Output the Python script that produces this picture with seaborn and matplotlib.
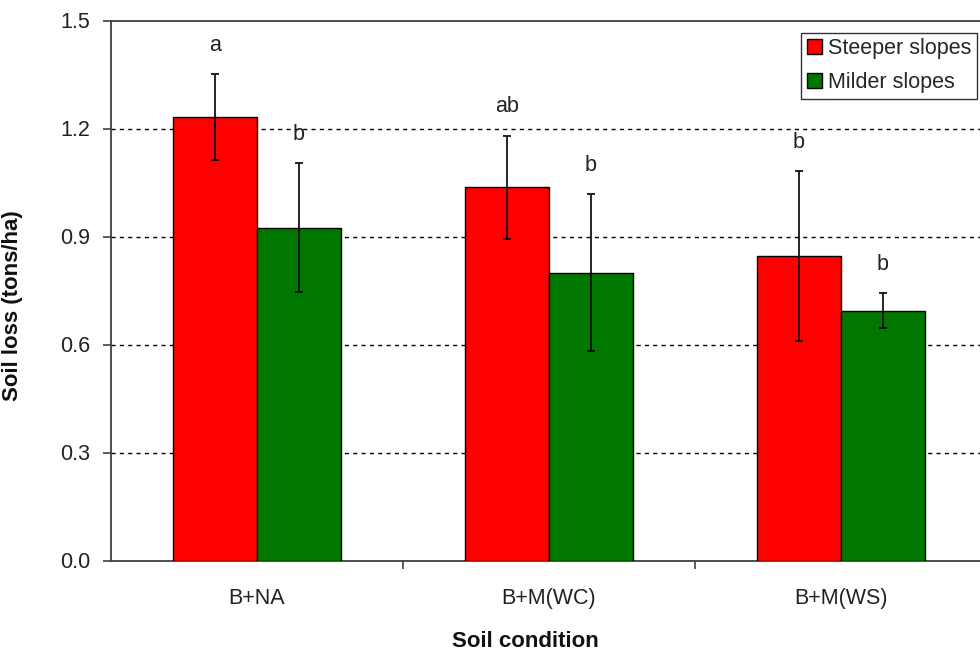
import matplotlib
matplotlib.use("Agg")
import matplotlib.pyplot as plt
import seaborn as sns
import pandas as pd
import numpy as np

conditions = ["B+NA", "B+M(WC)", "B+M(WS)"]
series = ["Steeper slopes", "Milder slopes"]
steeper = [1.232, 1.037, 0.846]
milder = [0.924, 0.800, 0.694]
steeper_err = [0.119, 0.143, 0.236]
milder_err = [0.179, 0.217, 0.048]
steeper_letters = ["a", "ab", "b"]
milder_letters = ["b", "b", "b"]
y_ticks = [0.0, 0.3, 0.6, 0.9, 1.2, 1.5]
colors = ["#FF0000", "#007800"]

df = pd.DataFrame({
    "Soil condition": conditions * 2,
    "Slope": [series[0]] * 3 + [series[1]] * 3,
    "value": steeper + milder,
})

sns.set_theme(style="white")
plt.rcParams["font.family"] = ["Liberation Sans", "DejaVu Sans"]

FS = 15.5

fig = plt.figure(figsize=(9.8, 6.52), dpi=100)
ax = fig.add_axes([111 / 980, 1 - 560.5 / 652, 876 / 980, 540 / 652])

sns.barplot(data=df, x="Soil condition", y="value", hue="Slope",
            order=conditions, hue_order=series, palette=colors,
            errorbar=None, width=0.575, edgecolor="black", linewidth=1.0,
            saturation=1, ax=ax, zorder=3)

errs = [steeper_err, milder_err]
vals = [steeper, milder]
letters = [steeper_letters, milder_letters]
bar_containers = list(ax.containers)[:2]
for ci, cont in enumerate(bar_containers):
    for bi, bar in enumerate(list(cont.patches)):
        xc = bar.get_x() + bar.get_width() / 2
        v = vals[ci][bi]
        e = errs[ci][bi]
        ax.errorbar(xc, v, yerr=e, fmt="none", ecolor="black", elinewidth=1.2,
                    capsize=3, capthick=1.2, zorder=4)
        ax.text(xc, v + e + 0.08, letters[ci][bi], ha="center", va="center",
                fontsize=FS, color="#222222")

ax.set_ylim(0, 1.5)
ax.set_xlim(-0.5, 2.5)
ax.set_yticks(y_ticks)
ax.set_yticklabels([f"{t:.1f}" for t in y_ticks])
for t in y_ticks[1:-1]:
    ax.axhline(t, color="black", linestyle=(0, (3, 3)), linewidth=1.0, zorder=1)

ax.set_xticks(range(len(conditions)))
ax.set_xticklabels(conditions)
ax.set_xticks([0.5, 1.5], minor=True)
ax.tick_params(axis="x", which="major", length=0, pad=20, labelsize=FS, labelcolor="#222222")
ax.tick_params(axis="x", which="minor", length=6, width=1.2, color="#404040", direction="out", bottom=True)
ax.tick_params(axis="y", which="major", length=6, width=1.2, color="#404040", direction="out",
               left=True, pad=9, labelsize=FS, labelcolor="#222222")

for s in ax.spines.values():
    s.set_color("#404040")
    s.set_linewidth(1.3)

ax.set_xlabel("Soil condition", fontsize=16, fontweight="bold", color="#111111")
ax.xaxis.set_label_coords((525 - 111) / 876, -0.131)
ax.set_ylabel("Soil loss (tons/ha)", fontsize=16, fontweight="bold", color="#111111")
ax.yaxis.set_label_coords((23 - 111) / 876, (560.5 - 306) / 540)

leg = ax.legend(loc="upper right", bbox_to_anchor=(977 / 980, 1 - 33 / 652),
                bbox_transform=fig.transFigure, borderaxespad=0, fontsize=FS,
                frameon=True, fancybox=False, edgecolor="black",
                handlelength=0.7, handleheight=0.7, handletextpad=0.3,
                labelspacing=0.6, borderpad=0.25)
leg.get_frame().set_linewidth(1.0)
for h in leg.legend_handles:
    h.set_edgecolor("black")
    h.set_linewidth(1.0)

fig.savefig("out.png", dpi=100)
